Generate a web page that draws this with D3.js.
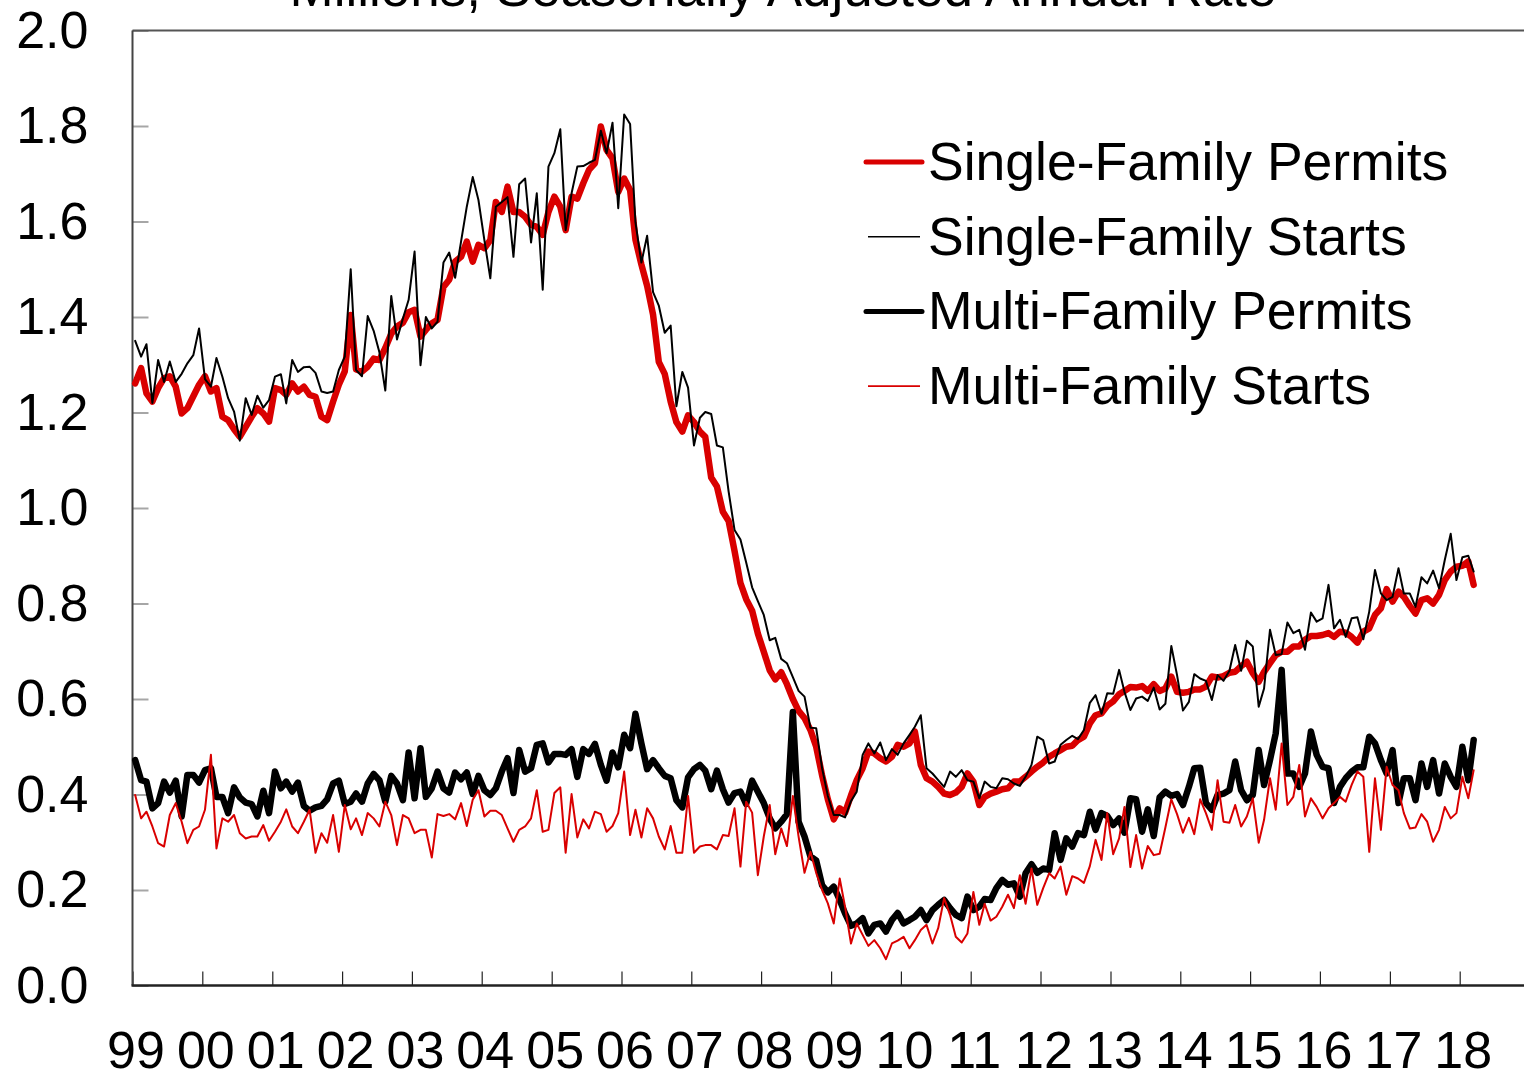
<!DOCTYPE html>
<html lang="en">
<head>
<meta charset="UTF-8">
<title>Housing Permits and Starts</title>
<script src="https://cdnjs.cloudflare.com/ajax/libs/d3/7.8.5/d3.min.js"></script>
<style>
  body { margin: 0; background: #fff; }
  svg { display: block; font-family: "Liberation Sans", Arial, sans-serif; }
</style>
</head>
<body>
<svg id="chart" width="1524" height="1074"></svg>
<script>
// monthly, Jan 1999 .. Mar 2018, millions SAAR
const sfPermits = [
  1.261, 1.293, 1.240, 1.223, 1.251, 1.272, 1.276, 1.254, 1.198, 1.209, 1.234, 1.258,
  1.276, 1.244, 1.251, 1.191, 1.184, 1.165, 1.149, 1.170, 1.191, 1.209, 1.198, 1.181,
  1.251, 1.247, 1.237, 1.261, 1.244, 1.254, 1.237, 1.233, 1.191, 1.184, 1.223, 1.258,
  1.286, 1.404, 1.290, 1.286, 1.296, 1.313, 1.310, 1.335, 1.365, 1.380, 1.388, 1.410,
  1.415, 1.359, 1.373, 1.387, 1.394, 1.463, 1.478, 1.516, 1.526, 1.558, 1.516, 1.551,
  1.544, 1.561, 1.641, 1.620, 1.673, 1.620, 1.620, 1.610, 1.593, 1.589, 1.572, 1.620,
  1.652, 1.631, 1.582, 1.652, 1.648, 1.680, 1.708, 1.722, 1.799, 1.750, 1.732, 1.662,
  1.690, 1.666, 1.562, 1.510, 1.465, 1.405, 1.306, 1.281, 1.223, 1.180, 1.160, 1.194,
  1.180, 1.160, 1.149, 1.064, 1.045, 0.992, 0.973, 0.910, 0.843, 0.809, 0.785, 0.737,
  0.699, 0.660, 0.641, 0.656, 0.631, 0.600, 0.575, 0.560, 0.535, 0.500, 0.440, 0.390,
  0.348, 0.371, 0.362, 0.398, 0.430, 0.455, 0.490, 0.486, 0.476, 0.469, 0.479, 0.504,
  0.500, 0.507, 0.532, 0.462, 0.434, 0.427, 0.416, 0.402, 0.399, 0.404, 0.416, 0.444,
  0.427, 0.378, 0.395, 0.402, 0.406, 0.411, 0.413, 0.427, 0.427, 0.437, 0.448, 0.458,
  0.467, 0.479, 0.486, 0.493, 0.500, 0.502, 0.514, 0.521, 0.549, 0.566, 0.570, 0.586,
  0.595, 0.610, 0.617, 0.625, 0.624, 0.627, 0.617, 0.631, 0.617, 0.622, 0.647, 0.615,
  0.613, 0.615, 0.620, 0.620, 0.626, 0.647, 0.645, 0.648, 0.655, 0.657, 0.669, 0.678,
  0.654, 0.636, 0.657, 0.675, 0.692, 0.699, 0.699, 0.710, 0.710, 0.724, 0.732, 0.732,
  0.734, 0.738, 0.730, 0.741, 0.739, 0.730, 0.718, 0.741, 0.748, 0.776, 0.790, 0.830,
  0.804, 0.825, 0.814, 0.795, 0.779, 0.807, 0.811, 0.800, 0.818, 0.849, 0.867, 0.877,
  0.879, 0.888, 0.839
];
const sfStarts = [
  1.350, 1.317, 1.343, 1.220, 1.310, 1.264, 1.307, 1.264, 1.281, 1.303, 1.320, 1.376,
  1.270, 1.254, 1.314, 1.275, 1.230, 1.202, 1.141, 1.230, 1.195, 1.235, 1.210, 1.226,
  1.275, 1.280, 1.219, 1.310, 1.285, 1.295, 1.296, 1.283, 1.244, 1.241, 1.244, 1.289,
  1.317, 1.500, 1.289, 1.276, 1.402, 1.371, 1.326, 1.246, 1.444, 1.353, 1.397, 1.436,
  1.537, 1.299, 1.400, 1.376, 1.390, 1.514, 1.535, 1.482, 1.558, 1.631, 1.693, 1.645,
  1.561, 1.481, 1.631, 1.641, 1.651, 1.526, 1.678, 1.690, 1.556, 1.659, 1.457, 1.715,
  1.743, 1.793, 1.582, 1.659, 1.715, 1.716, 1.723, 1.729, 1.790, 1.743, 1.807, 1.628,
  1.824, 1.804, 1.598, 1.514, 1.570, 1.452, 1.424, 1.367, 1.382, 1.213, 1.285, 1.252,
  1.131, 1.189, 1.201, 1.197, 1.131, 1.127, 1.035, 0.954, 0.934, 0.886, 0.834, 0.805,
  0.776, 0.723, 0.728, 0.684, 0.675, 0.646, 0.617, 0.605, 0.540, 0.539, 0.455, 0.397,
  0.357, 0.357, 0.352, 0.386, 0.406, 0.483, 0.507, 0.486, 0.509, 0.472, 0.495, 0.483,
  0.507, 0.525, 0.542, 0.566, 0.455, 0.444, 0.430, 0.416, 0.448, 0.437, 0.451, 0.430,
  0.427, 0.392, 0.427, 0.416, 0.413, 0.434, 0.432, 0.423, 0.418, 0.437, 0.462, 0.521,
  0.514, 0.465, 0.469, 0.504, 0.514, 0.523, 0.516, 0.535, 0.592, 0.608, 0.569, 0.612,
  0.611, 0.661, 0.615, 0.577, 0.601, 0.605, 0.596, 0.624, 0.578, 0.590, 0.711, 0.650,
  0.576, 0.594, 0.652, 0.643, 0.638, 0.598, 0.650, 0.638, 0.659, 0.713, 0.659, 0.722,
  0.710, 0.584, 0.622, 0.745, 0.692, 0.694, 0.760, 0.738, 0.745, 0.703, 0.781, 0.762,
  0.769, 0.839, 0.748, 0.766, 0.730, 0.769, 0.771, 0.725, 0.783, 0.870, 0.821, 0.807,
  0.814, 0.874, 0.821, 0.821, 0.793, 0.855, 0.842, 0.869, 0.832, 0.891, 0.946, 0.849,
  0.897, 0.900, 0.867
];
const mfPermits = [
  0.472, 0.430, 0.427, 0.371, 0.382, 0.427, 0.404, 0.429, 0.354, 0.441, 0.441, 0.425,
  0.451, 0.455, 0.395, 0.395, 0.361, 0.415, 0.394, 0.383, 0.380, 0.354, 0.408, 0.361,
  0.448, 0.413, 0.427, 0.406, 0.425, 0.376, 0.366, 0.373, 0.376, 0.390, 0.423, 0.429,
  0.380, 0.385, 0.402, 0.385, 0.423, 0.443, 0.430, 0.385, 0.439, 0.423, 0.388, 0.488,
  0.392, 0.497, 0.395, 0.413, 0.448, 0.413, 0.404, 0.446, 0.432, 0.446, 0.401, 0.439,
  0.409, 0.399, 0.413, 0.448, 0.476, 0.403, 0.493, 0.448, 0.455, 0.504, 0.507, 0.467,
  0.485, 0.485, 0.483, 0.495, 0.437, 0.495, 0.485, 0.506, 0.462, 0.429, 0.488, 0.457,
  0.525, 0.497, 0.569, 0.507, 0.453, 0.472, 0.455, 0.439, 0.434, 0.388, 0.373, 0.436,
  0.453, 0.462, 0.450, 0.411, 0.450, 0.411, 0.383, 0.403, 0.406, 0.380, 0.429, 0.406,
  0.382, 0.350, 0.329, 0.343, 0.359, 0.573, 0.343, 0.312, 0.270, 0.262, 0.210, 0.195,
  0.207, 0.179, 0.151, 0.125, 0.130, 0.141, 0.109, 0.127, 0.130, 0.113, 0.137, 0.152,
  0.130, 0.137, 0.144, 0.158, 0.137, 0.158, 0.169, 0.179, 0.162, 0.148, 0.141, 0.186,
  0.158, 0.165, 0.181, 0.179, 0.204, 0.221, 0.211, 0.214, 0.186, 0.235, 0.254, 0.236,
  0.245, 0.242, 0.319, 0.263, 0.308, 0.291, 0.319, 0.315, 0.364, 0.326, 0.361, 0.355,
  0.336, 0.350, 0.320, 0.392, 0.390, 0.322, 0.369, 0.313, 0.394, 0.406, 0.397, 0.401,
  0.378, 0.416, 0.455, 0.456, 0.382, 0.368, 0.399, 0.402, 0.409, 0.469, 0.409, 0.388,
  0.399, 0.493, 0.420, 0.472, 0.528, 0.661, 0.444, 0.444, 0.416, 0.444, 0.532, 0.483,
  0.458, 0.455, 0.382, 0.416, 0.434, 0.448, 0.457, 0.457, 0.521, 0.507, 0.472, 0.444,
  0.493, 0.382, 0.434, 0.434, 0.388, 0.465, 0.416, 0.472, 0.402, 0.465, 0.437, 0.416,
  0.500, 0.430, 0.514
];
const mfStarts = [
  0.399, 0.350, 0.364, 0.333, 0.298, 0.291, 0.357, 0.382, 0.343, 0.298, 0.326, 0.333,
  0.368, 0.483, 0.287, 0.350, 0.343, 0.357, 0.319, 0.308, 0.312, 0.312, 0.336, 0.303,
  0.322, 0.343, 0.369, 0.333, 0.319, 0.343, 0.368, 0.278, 0.319, 0.299, 0.357, 0.280,
  0.378, 0.327, 0.350, 0.315, 0.361, 0.350, 0.333, 0.385, 0.357, 0.294, 0.357, 0.350,
  0.319, 0.326, 0.326, 0.268, 0.359, 0.355, 0.359, 0.348, 0.382, 0.334, 0.389, 0.409,
  0.354, 0.366, 0.366, 0.357, 0.329, 0.301, 0.326, 0.333, 0.350, 0.409, 0.322, 0.326,
  0.403, 0.415, 0.278, 0.401, 0.310, 0.348, 0.329, 0.364, 0.359, 0.322, 0.334, 0.361,
  0.448, 0.315, 0.368, 0.310, 0.371, 0.350, 0.312, 0.285, 0.334, 0.278, 0.278, 0.397,
  0.278, 0.291, 0.294, 0.294, 0.285, 0.315, 0.313, 0.371, 0.249, 0.385, 0.362, 0.231,
  0.312, 0.378, 0.275, 0.329, 0.292, 0.397, 0.312, 0.236, 0.280, 0.236, 0.200, 0.172,
  0.130, 0.224, 0.165, 0.088, 0.130, 0.106, 0.083, 0.095, 0.078, 0.055, 0.088, 0.094,
  0.102, 0.078, 0.095, 0.116, 0.127, 0.088, 0.120, 0.183, 0.148, 0.102, 0.090, 0.109,
  0.196, 0.127, 0.171, 0.136, 0.144, 0.165, 0.190, 0.162, 0.231, 0.171, 0.245, 0.169,
  0.204, 0.235, 0.224, 0.249, 0.190, 0.229, 0.224, 0.215, 0.250, 0.305, 0.263, 0.361,
  0.275, 0.308, 0.374, 0.248, 0.315, 0.245, 0.292, 0.273, 0.276, 0.331, 0.390, 0.359,
  0.320, 0.351, 0.317, 0.390, 0.361, 0.326, 0.430, 0.343, 0.341, 0.378, 0.333, 0.354,
  0.392, 0.299, 0.347, 0.434, 0.368, 0.507, 0.378, 0.395, 0.462, 0.354, 0.392, 0.374,
  0.350, 0.371, 0.382, 0.395, 0.385, 0.420, 0.448, 0.437, 0.280, 0.434, 0.326, 0.458,
  0.420, 0.409, 0.361, 0.329, 0.331, 0.359, 0.343, 0.301, 0.326, 0.374, 0.350, 0.361,
  0.437, 0.392, 0.451
];

const years = [1999, 2000, 2001, 2002, 2003, 2004, 2005, 2006, 2007, 2008,
               2009, 2010, 2011, 2012, 2013, 2014, 2015, 2016, 2017, 2018];
const yearLabels = ["99", "00", "01", "02", "03", "04", "05", "06", "07", "08",
                    "09", "10", "11", "12", "13", "14", "15", "16", "17", "18"];
const yTicks = [0, 0.2, 0.4, 0.6, 0.8, 1.0, 1.2, 1.4, 1.6, 1.8, 2.0];
const title = "Millions, Seasonally Adjusted Annual Rate";

const svg = d3.select("#chart");
const red = "#d90000";
const plotLeft = 132.5, plotTop = 30.5, plotBottom = 985.5;

// each value plotted mid-month
const months = sfPermits.map((d, i) => new Date(1999, i, 15));

const x = d3.scaleTime()
    .domain([new Date(1999, 0, 1), new Date(2019, 0, 1)])
    .range([plotLeft, plotLeft + 20 * 69.85]);
const y = d3.scaleLinear().domain([0, 2]).range([plotBottom, plotTop]);

// title, mostly cut off by the top of the picture
svg.append("text")
   .attr("x", 783)
   .attr("y", 6)
   .attr("text-anchor", "middle")
   .attr("font-size", 53)
   .text(title);

// y axis
const yAxis = svg.append("g")
   .attr("transform", `translate(${plotLeft},0)`)
   .call(d3.axisLeft(y).tickValues(yTicks).tickFormat(d3.format(".1f"))
           .tickSize(-16).tickPadding(44));
yAxis.select(".domain").remove();
yAxis.selectAll("line").attr("stroke", "#a6a6a6").attr("stroke-width", 2);
yAxis.selectAll("text").attr("font-size", 52).attr("fill", "#000")
     .attr("font-family", "Liberation Sans, Arial, sans-serif");

// x axis
const xAxis = svg.append("g")
   .attr("transform", `translate(0,${plotBottom})`)
   .call(d3.axisBottom(x).tickValues(years.map(yr => new Date(yr, 0, 1)))
           .tickFormat((d, i) => yearLabels[i])
           .tickSize(-14).tickPadding(46));
xAxis.select(".domain").remove();
xAxis.selectAll("line").attr("stroke", "#222").attr("stroke-width", 1.2);
xAxis.selectAll("text").attr("font-size", 52).attr("fill", "#000")
     .attr("dx", 3)
     .attr("font-family", "Liberation Sans, Arial, sans-serif");

// frame
svg.append("line").attr("x1", plotLeft).attr("x2", 1524).attr("y1", plotTop).attr("y2", plotTop)
   .attr("stroke", "#555").attr("stroke-width", 2);
svg.append("line").attr("x1", plotLeft).attr("x2", plotLeft).attr("y1", plotTop).attr("y2", plotBottom)
   .attr("stroke", "#444").attr("stroke-width", 2);
svg.append("line").attr("x1", plotLeft - 1).attr("x2", 1524).attr("y1", plotBottom).attr("y2", plotBottom)
   .attr("stroke", "#222").attr("stroke-width", 2.5);

const line = d3.line()
    .x((d, i) => x(months[i]))
    .y(d => y(d));

const series = [
  { name: "Single-Family Permits", values: sfPermits, color: red,    width: 6.5 },
  { name: "Single-Family Starts",  values: sfStarts,  color: "#000", width: 2 },
  { name: "Multi-Family Permits",  values: mfPermits, color: "#000", width: 6.5 },
  { name: "Multi-Family Starts",   values: mfStarts,  color: red,    width: 2 }
];

// thick lines first, thin lines on top
[0, 2, 1, 3].forEach(k => {
  const s = series[k];
  svg.append("path")
     .datum(s.values)
     .attr("fill", "none")
     .attr("stroke", s.color)
     .attr("stroke-width", s.width)
     .attr("stroke-linejoin", "round")
     .attr("stroke-linecap", "round")
     .attr("d", line);
});

// legend
const legend = svg.append("g").attr("transform", "translate(866,0)");
series.forEach((s, i) => {
  const cy = 162 + i * 74.7;
  legend.append("line")
     .attr("x1", s.width > 3 ? 0 : 2).attr("x2", s.width > 3 ? 56 : 54)
     .attr("y1", cy).attr("y2", cy)
     .attr("stroke", s.color)
     .attr("stroke-width", s.width > 3 ? 5 : 1.6)
     .attr("stroke-linecap", s.width > 3 ? "round" : "butt");
  legend.append("text")
     .attr("x", 62)
     .attr("y", cy + 18)
     .attr("font-size", 53.5)
     .text(s.name);
});
</script>
</body>
</html>
